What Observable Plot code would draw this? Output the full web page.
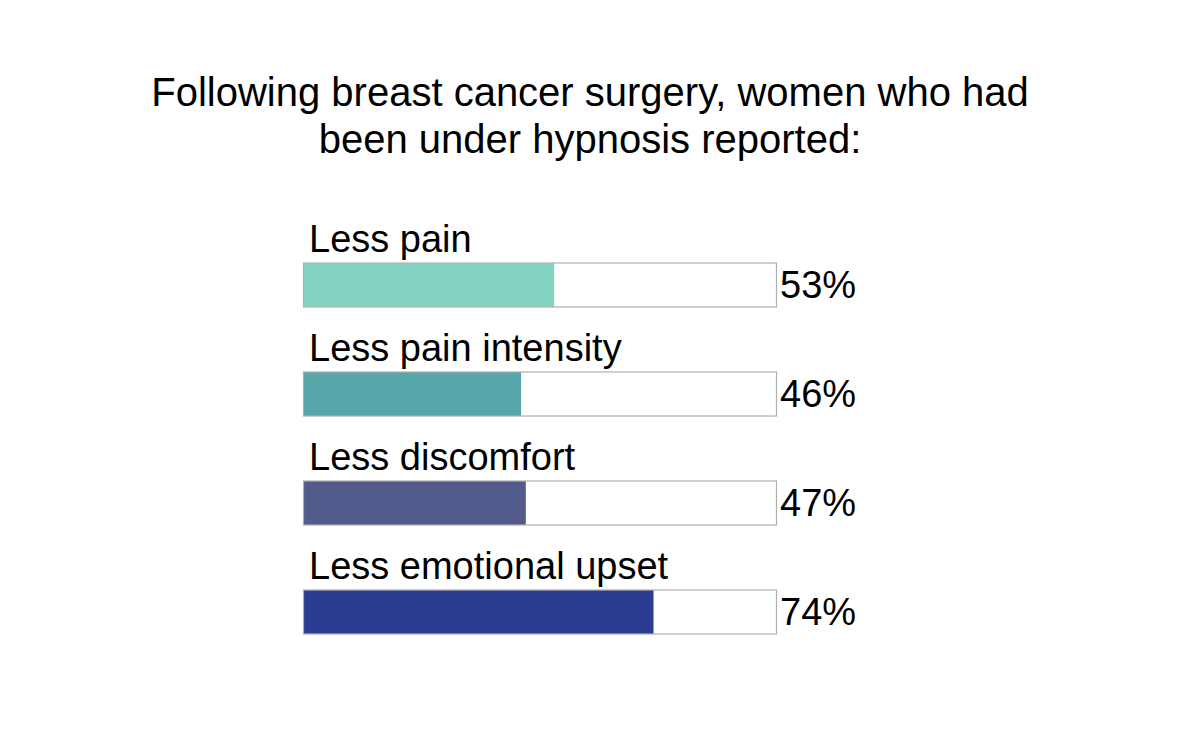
<!DOCTYPE html>
<html>
<head>
<meta charset="utf-8">
<script src="https://cdn.jsdelivr.net/npm/d3@7"></script>
<script src="https://cdn.jsdelivr.net/npm/@observablehq/plot@0.6"></script>
<style>
  html, body { margin: 0; padding: 0; background: #fff; }
  body { width: 1200px; height: 748px; overflow: hidden; font-family: "Liberation Sans", Arial, sans-serif; }
  #title { box-sizing: border-box; height: 94px; margin-top: 69px; width: 1180px; text-align: center; font-size: 40px; line-height: 47px; color: #000; white-space: nowrap; }
  #chart svg { display: block; }
</style>
</head>
<body>
<div id="title">Following breast cancer surgery, women who had<br>been under hypnosis reported:</div>
<div id="chart"></div>
<script>
const categories = ["Less pain", "Less pain intensity", "Less discomfort", "Less emotional upset"];
const values = [53, 46, 47, 74];
const colors = ["#84d4c3", "#57a6aa", "#535a8c", "#2d3c93"];
const valueLabels = ["53%", "46%", "47%", "74%"];

const data = categories.map((c, i) => ({cat: c, value: values[i], color: colors[i], label: valueLabels[i]}));

const chart = Plot.plot({
  width: 1200,
  height: 585,
  marginLeft: 303.5,
  marginRight: 423.5,
  marginTop: 0,
  marginBottom: 0,
  style: {fontFamily: "'Liberation Sans', Arial, sans-serif", background: "#fff", color: "#000"},
  x: {domain: [0, 100], axis: null},
  y: {type: "band", domain: categories, range: [99, 472.1], paddingInner: 0.599, paddingOuter: 0, axis: null},
  marks: [
    Plot.barX(data, {y: "cat", x1: 0, x2: 100, fill: "#fff", stroke: "none"}),
    Plot.barX(data, {y: "cat", x1: 0, x2: "value", fill: d => d.color}),
    Plot.barX(data, {y: "cat", x1: 0, x2: 100, fill: "none", stroke: "#b0b0b0", strokeWidth: 1.2}),
    Plot.text(data, {y: "cat", x: 0, text: "cat", textAnchor: "start", lineAnchor: "bottom", dx: 5, dy: -34, fontSize: 38, fill: "#000"}),
    Plot.text(data, {y: "cat", x: 100, text: "label", textAnchor: "start", lineAnchor: "middle", dx: 3, dy: 0, fontSize: 38, fill: "#000"})
  ]
});
document.getElementById("chart").appendChild(chart);
</script>
</body>
</html>
